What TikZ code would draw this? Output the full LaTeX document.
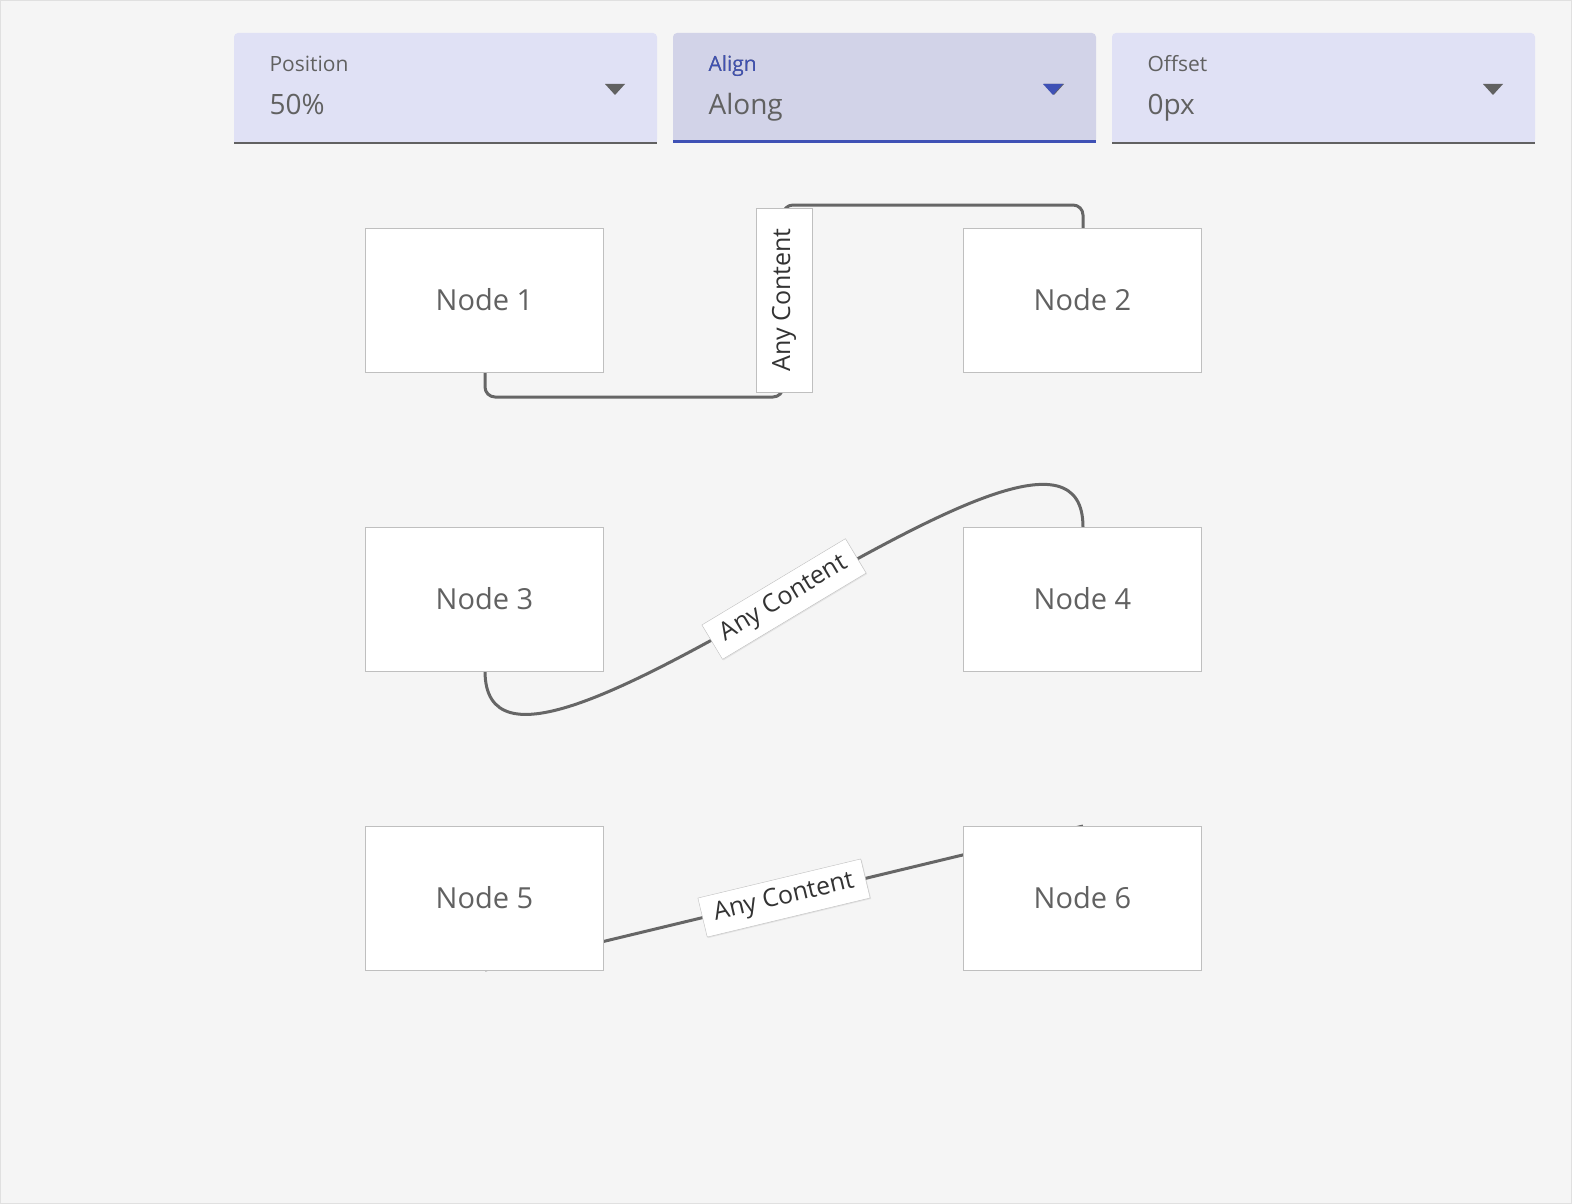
\documentclass[tikz,border=0pt]{standalone}
\usepackage{fontspec}
\setmainfont{Open Sans}
\usetikzlibrary{shadows}
\definecolor{bg}{HTML}{F5F5F5}
\definecolor{txt}{HTML}{616161}
\definecolor{ddfill}{HTML}{E0E1F5}
\definecolor{ddact}{HTML}{D2D3E8}
\definecolor{blu}{HTML}{3F51B5}
\definecolor{edge}{HTML}{666666}
\begin{document}
\begin{tikzpicture}[x=1pt,y=-1pt,
  box/.style={draw=black!25,fill=white,minimum width=238pt,minimum height=144pt,inner sep=0pt,text=txt,font=\fontsize{29}{32}\selectfont},
  lab/.style={draw=black!25,fill=white,text=black!80,font=\fontsize{25}{28}\selectfont,inner xsep=12pt,inner ysep=8pt,drop shadow={opacity=0.15,shadow xshift=1pt,shadow yshift=-1pt}},
  con/.style={draw=edge,line width=3pt,rounded corners=10pt},
  ddl/.style={anchor=base west,text=txt,font=\fontsize{21}{24}\selectfont},
  ddv/.style={anchor=base west,text=txt,font=\fontsize{28}{30}\selectfont}]
\path[fill=bg,draw=black!12] (0.5,0.5) rectangle (1571.5,1203.5);
\useasboundingbox (0,0) rectangle (1572,1204);
% dropdowns
\foreach \x/\f/\l/\v/\n in {234/ddfill/Position/50\%/a,673/ddact/Align/Along/b,1112/ddfill/Offset/0px/c}{
  \fill[\f,rounded corners=4pt] (\x,33) rectangle (\x+423,143);
  \fill[\f] (\x,120) rectangle (\x+423,143);
  \node[ddl] (l\n) at (\x+32,72) {\l};
  \node[ddv] (v\n) at (\x+32,115) {\v};
  \fill[txt] (\x+371,84) coordinate (t\n) -- (\x+391,84) -- (\x+381,95) -- cycle;
}
\draw[txt,line width=1.5pt] (234,143) -- (657,143) (1112,143) -- (1535,143);
\draw[blu,line width=3pt] (673,142) -- (1096,142);
\node[ddl,text=blu] at (705,72) {Align};
\fill[blu] (1043,84) -- (1063,84) -- (1053,95) -- cycle;
% edges
\coordinate (e1a) at (485,397); \coordinate (e1b) at (783,397);
\coordinate (e1c) at (783,205); \coordinate (e1d) at (1083,205);
\draw[con] (485,372) -- (e1a) -- (e1b) -- (e1c) -- (e1d) -- (1083,228);
\draw[edge,line width=3pt] (485,671) .. controls (485,865) and (1083,335) .. (1083,527);
\draw[edge,line width=3pt] (485,970) -- (1083,826);
% nodes
\node[box] (n1) at (484.5,300) {Node 1};
\node[box] (n2) at (1082.5,300) {Node 2};
\node[box] (n3) at (484.5,599) {Node 3};
\node[box] (n4) at (1082.5,599) {Node 4};
\node[box] (n5) at (484.5,898) {Node 5};
\node[box] (n6) at (1082.5,898) {Node 6};
% labels
\node[lab,rotate=90,minimum width=184pt,minimum height=56pt,inner ysep=0pt,inner xsep=0pt] (l1) at (784,300) {Any Content};
\node[lab,rotate=31] (l2) at (784,599) {Any Content};
\node[lab,rotate=13.5] (l3) at (784,898) {Any Content};
\end{tikzpicture}
\end{document}
